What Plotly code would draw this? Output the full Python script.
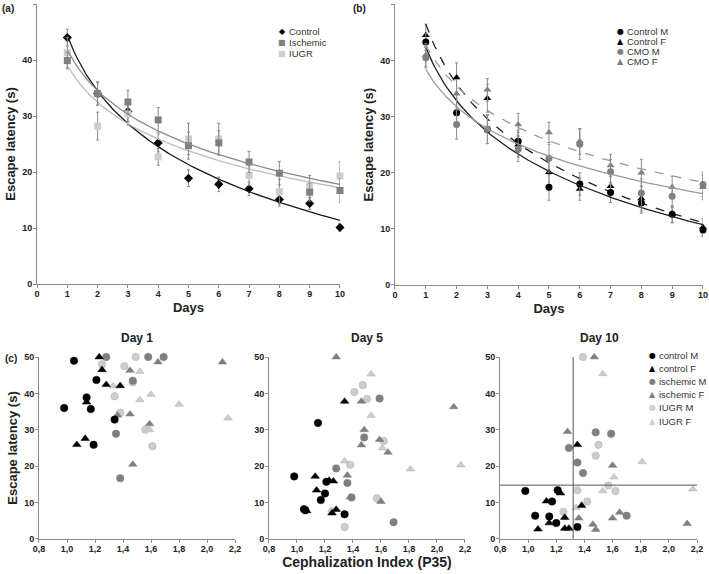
import numpy as np
import plotly.graph_objects as go

FONT = "Liberation Sans, Arial, sans-serif"

# ---- (a) escape latency by group, days 1-10 ----
days = [1, 2, 3, 4, 5, 6, 7, 8, 9, 10]
control = [44.0, 34.0, 30.8, 25.2, 18.9, 17.8, 17.0, 15.1, 14.4, 10.1]
control_err = [1.5, 2.0, 1.8, 1.6, 1.5, 1.3, 1.2, 1.2, 1.1, 0.7]
ischemic = [39.9, 34.0, 32.5, 29.3, 24.7, 25.2, 21.8, 19.8, 16.4, 16.7]
ischemic_err = [1.5, 2.1, 2.1, 2.2, 2.4, 2.2, 1.9, 2.1, 1.6, 2.1]
iugr = [41.3, 28.2, 30.4, 22.7, 25.9, 25.9, 19.4, 16.5, 17.4, 19.3]
iugr_err = [2.7, 2.5, 2.0, 1.5, 2.8, 2.8, 1.8, 2.2, 2.0, 2.5]

# ---- (b) by sex ----
control_m = [43.3, 30.7, 27.7, 25.6, 17.4, 18.0, 16.5, 14.6, 12.6, 9.8]
control_m_err = [1.5, 2.5, 2.5, 2.0, 2.3, 2.0, 1.8, 1.8, 1.5, 1.2]
control_f = [44.5, 37.0, 33.3, 25.0, 20.1, 17.1, 17.6, 15.4, 12.6, 10.3]
control_f_err = [2.0, 2.6, 2.5, 2.2, 2.5, 2.0, 2.0, 2.2, 1.5, 1.5]
cmo_m = [40.5, 28.6, 27.8, 24.2, 22.6, 25.1, 20.2, 16.4, 15.8, 17.9]
cmo_m_err = [1.8, 2.6, 2.6, 2.2, 2.5, 2.7, 2.2, 2.5, 2.0, 2.2]
cmo_f = [41.0, 34.1, 34.8, 28.6, 27.2, 25.6, 21.3, 20.0, 17.4, 17.4]
cmo_f_err = [2.0, 2.5, 2.0, 2.0, 1.8, 2.3, 2.0, 2.4, 2.0, 2.2]

# ---- (c) latency vs cephalization index ----
ci_ticks = [0.8, 1.0, 1.2, 1.4, 1.6, 1.8, 2.0, 2.2]
ci_labels = ["0,8", "1,0", "1,2", "1,4", "1,6", "1,8", "2,0", "2,2"]

day1 = {
    "control M": ([0.98, 1.05, 1.14, 1.17, 1.21, 1.19, 1.34], [36.0, 49.0, 38.9, 35.7, 43.7, 25.9, 32.8]),
    "control F": ([1.07, 1.13, 1.14, 1.23, 1.25, 1.28, 1.38], [25.9, 27.6, 37.6, 50.0, 46.5, 42.4, 42.1]),
    "ischemic M": ([1.28, 1.35, 1.38, 1.58, 1.69, 1.47], [50.0, 28.9, 16.7, 50.0, 50.0, 43.5]),
    "ischemic F": ([1.45, 1.65, 2.11, 1.45, 1.47, 1.59, 1.36], [46.3, 48.6, 48.6, 34.3, 20.5, 31.6, 34.0]),
    "IUGR M": ([1.25, 1.41, 1.49, 1.47, 1.34, 1.38, 1.56, 1.61], [48.0, 47.5, 50.0, 43.0, 39.2, 34.7, 30.0, 25.5]),
    "IUGR F": ([1.33, 1.52, 1.60, 1.52, 1.80, 2.15, 1.59], [42.0, 46.0, 39.7, 38.2, 37.0, 33.2, 30.0]),
}
day5 = {
    "control M": ([0.98, 1.05, 1.06, 1.15, 1.17, 1.20, 1.21, 1.34], [17.2, 8.2, 7.9, 31.9, 10.7, 12.5, 15.7, 6.8]),
    "control F": ([1.07, 1.13, 1.14, 1.23, 1.26, 1.28, 1.25, 1.34], [7.7, 17.2, 13.4, 16.1, 15.9, 8.1, 7.1, 37.8]),
    "ischemic M": ([1.28, 1.36, 1.39, 1.48, 1.59, 1.69], [19.4, 15.4, 11.4, 27.9, 38.6, 4.6]),
    "ischemic F": ([1.28, 1.46, 1.48, 1.46, 1.59, 1.65, 1.36, 1.38, 1.60, 2.12], [50.0, 37.8, 30.0, 25.8, 27.3, 23.8, 17.5, 11.5, 10.3, 36.3]),
    "IUGR M": ([1.41, 1.47, 1.50, 1.62, 1.38, 1.57, 1.25, 1.34], [40.4, 42.3, 38.5, 26.9, 20.4, 11.2, 7.6, 3.3]),
    "IUGR F": ([1.53, 1.53, 1.61, 1.34, 1.81, 2.17], [45.3, 33.9, 25.0, 21.4, 19.2, 20.3]),
}
day10 = {
    "control M": ([0.98, 1.05, 1.15, 1.17, 1.20, 1.21, 1.35], [13.2, 6.4, 6.2, 10.3, 4.4, 13.4, 3.3]),
    "control F": ([1.07, 1.13, 1.15, 1.23, 1.26, 1.26, 1.29, 1.35, 1.38], [2.7, 10.4, 4.4, 12.6, 5.9, 2.9, 2.9, 25.9, 9.2]),
    "ischemic M": ([1.29, 1.35, 1.39, 1.48, 1.59, 1.70], [25.0, 21.0, 18.1, 29.3, 28.9, 6.4]),
    "ischemic F": ([1.28, 1.47, 1.60, 1.36, 1.46, 1.48, 1.60, 1.65, 2.13], [29.5, 50.0, 20.2, 5.7, 4.0, 2.6, 5.7, 7.3, 4.2]),
    "IUGR M": ([1.39, 1.50, 1.48, 1.57, 1.62, 1.35, 1.42, 1.25], [50.0, 25.9, 22.9, 14.7, 13.2, 13.4, 10.3, 7.5]),
    "IUGR F": ([1.53, 1.81, 1.61, 1.53, 2.17, 1.34], [45.4, 21.2, 17.0, 13.2, 13.7, 8.6]),
}
ci_cut = 1.32
latency_cut = 14.8

BLACK, MID, LIGHT = "#000000", "#7f7f7f", "#cdcdcd"
ERR = "#8c8c8c"
group_style = {
    "control M": (BLACK, "circle"),
    "control F": (BLACK, "triangle-up"),
    "ischemic M": (MID, "circle"),
    "ischemic F": (MID, "triangle-up"),
    "IUGR M": (LIGHT, "circle"),
    "IUGR F": (LIGHT, "triangle-up"),
}


def log_fit(x, y):
    b, a = np.polyfit(np.log(x), y, 1)
    xs = np.linspace(min(x), max(x), 120)
    return xs, a + b * np.log(xs)


fig = go.Figure()


def add_series(vals, err, color, symbol, size, xa, ya, line_color, dash):
    xs, ys = log_fit(days, vals)
    fig.add_trace(go.Scatter(x=days, y=vals, mode="markers", xaxis=xa, yaxis=ya,
                             marker=dict(color=color, symbol=symbol, size=size),
                             error_y=dict(type="data", array=err, color=ERR, thickness=1, width=1.5),
                             cliponaxis=False, showlegend=False))
    fig.add_trace(go.Scatter(x=xs, y=ys, mode="lines", xaxis=xa, yaxis=ya,
                             line=dict(color=line_color, width=1.3, dash=dash),
                             showlegend=False, hoverinfo="skip"))


# panel (a)
add_series(control, control_err, BLACK, "diamond", 7, "x", "y", "#1a1a1a", "solid")
add_series(iugr, iugr_err, LIGHT, "square", 7, "x", "y", "#bdbdbd", "solid")
add_series(ischemic, ischemic_err, MID, "square", 7, "x", "y", "#8a8a8a", "solid")

# panel (b)
add_series(control_f, control_f_err, BLACK, "triangle-up", 7, "x2", "y2", "#222222", "dash")
add_series(control_m, control_m_err, BLACK, "circle", 7, "x2", "y2", "#222222", "solid")
add_series(cmo_f, cmo_f_err, MID, "triangle-up", 7, "x2", "y2", "#9a9a9a", "dash")
add_series(cmo_m, cmo_m_err, MID, "circle", 7, "x2", "y2", "#9a9a9a", "solid")

# panel (c)
for data, xa, ya in [(day1, "x3", "y3"), (day5, "x4", "y4"), (day10, "x5", "y5")]:
    for name in ["IUGR M", "IUGR F", "ischemic M", "ischemic F", "control M", "control F"]:
        cx, cy = data[name]
        color, symbol = group_style[name]
        fig.add_trace(go.Scatter(x=cx, y=cy, mode="markers", xaxis=xa, yaxis=ya,
                                 marker=dict(color=color, symbol=symbol, size=7.5,
                                             line=dict(width=0.5, color="#b0b0b0" if color == LIGHT else color)),
                                 cliponaxis=False, showlegend=False, name=name))

# threshold lines on Day 10
fig.add_shape(type="line", xref="x5", yref="y5", x0=ci_cut, x1=ci_cut, y0=0, y1=50,
              line=dict(color="#555555", width=1))
fig.add_shape(type="line", xref="x5", yref="y5", x0=ci_ticks[0], x1=ci_ticks[-1], y0=latency_cut, y1=latency_cut,
              line=dict(color="#555555", width=1))

tick_font = dict(family=FONT, size=9, color="#222", weight="bold")
x_common = dict(showline=True, linecolor="#8c8c8c", linewidth=1, ticks="outside", ticklen=3,
                tickcolor="#8c8c8c", showgrid=False, zeroline=False, automargin=False,
                ticklabelstandoff=-2, tickfont=tick_font)
y_common = dict(x_common, ticklabelstandoff=-1)
title_font = dict(family=FONT, size=13, color="#222", weight="bold")

fig.update_layout(
    width=709, height=574, margin=dict(l=0, r=0, t=0, b=0),
    paper_bgcolor="white", plot_bgcolor="white", showlegend=False,
    xaxis=dict(domain=[0.0522, 0.4795], range=[0, 10], dtick=1, anchor="y",
               title=dict(text="Days", font=title_font, standoff=5), **x_common),
    yaxis=dict(domain=[0.5052, 0.9930], range=[0, 50], dtick=10, anchor="x",
               title=dict(text="Escape latency (s)", font=title_font, standoff=3), **y_common),
    xaxis2=dict(domain=[0.5571, 0.9915], range=[0, 10], dtick=1, anchor="y2",
                title=dict(text="Days", font=title_font, standoff=5), **x_common),
    yaxis2=dict(domain=[0.5035, 0.9922], range=[0, 50], dtick=10, anchor="x2",
                title=dict(text="Escape latency (s)", font=title_font, standoff=3), **y_common),
    xaxis3=dict(domain=[0.0550, 0.3315], range=[0.8, 2.2], tickvals=ci_ticks, ticktext=ci_labels,
                anchor="y3", **x_common),
    yaxis3=dict(domain=[0.0610, 0.3780], range=[0, 50], dtick=10, anchor="x3",
                title=dict(text="Escape latency (s)", font=title_font, standoff=3), **y_common),
    xaxis4=dict(domain=[0.3794, 0.6558], range=[0.8, 2.2], tickvals=ci_ticks, ticktext=ci_labels,
                anchor="y4", title=dict(text="Cephalization Index (P35)",
                                        font=dict(family=FONT, size=14, color="#222", weight="bold"), standoff=0),
                **x_common),
    yaxis4=dict(domain=[0.0610, 0.3780], range=[0, 50], dtick=10, anchor="x4", **y_common),
    xaxis5=dict(domain=[0.7052, 0.9831], range=[0.8, 2.2], tickvals=ci_ticks, ticktext=ci_labels,
                anchor="y5", **x_common),
    yaxis5=dict(domain=[0.0610, 0.3780], range=[0, 50], dtick=10, anchor="x5", **y_common),
)

ann = []
lab_font = dict(family=FONT, size=10, color="#222", weight="bold")
for txt, x, y in [("(a)", 0.0, 0.998), ("(b)", 0.495, 0.998), ("(c)", 0.004, 0.388)]:
    ann.append(dict(text=txt, x=x, y=y, xref="paper", yref="paper", xanchor="left", yanchor="top",
                    showarrow=False, font=lab_font))
for txt, x in [("Day 1", 0.193), ("Day 5", 0.518), ("Day 10", 0.845)]:
    ann.append(dict(text=txt, x=x, y=1 - 338 / 574, xref="paper", yref="paper", xanchor="center",
                    yanchor="middle", showarrow=False, font=dict(family=FONT, size=12, color="#222", weight="bold")))

# legends built from glyph + label text
leg_a = [("◆", BLACK, "Control"), ("■", MID, "Ischemic"), ("■", LIGHT, "IUGR")]
leg_b = [("●", BLACK, "Control M"), ("▲", BLACK, "Control F"), ("●", MID, "CMO M"), ("▲", MID, "CMO F")]
leg_c = [("●", BLACK, "control M"), ("▲", BLACK, "control F"), ("●", MID, "ischemic M"),
         ("▲", MID, "ischemic F"), ("●", LIGHT, "IUGR M"), ("▲", LIGHT, "IUGR F")]
for items, gx, y0, step, fs in [(leg_a, 282, 32, 10.5, 9.5), (leg_b, 620, 32, 9.8, 9.5), (leg_c, 652, 355, 13.2, 9.5)]:
    for i, (glyph, color, label) in enumerate(items):
        yy = 1 - (y0 + i * step) / 574
        ann.append(dict(text=glyph, x=gx / 709, y=yy, xref="paper", yref="paper", xanchor="center",
                        yanchor="middle", showarrow=False, font=dict(family="DejaVu Sans", size=8, color=color)))
        ann.append(dict(text=label, x=(gx + 5) / 709, y=yy, xref="paper", yref="paper", xanchor="left",
                        yanchor="middle", showarrow=False, font=dict(family=FONT, size=fs, color="#333")))
fig.update_layout(annotations=ann)

# the page's default body margin would shift the figure; drop it
fig.write_html("out.html", config={"displayModeBar": False},
               post_script="document.body.style.margin='0';")
